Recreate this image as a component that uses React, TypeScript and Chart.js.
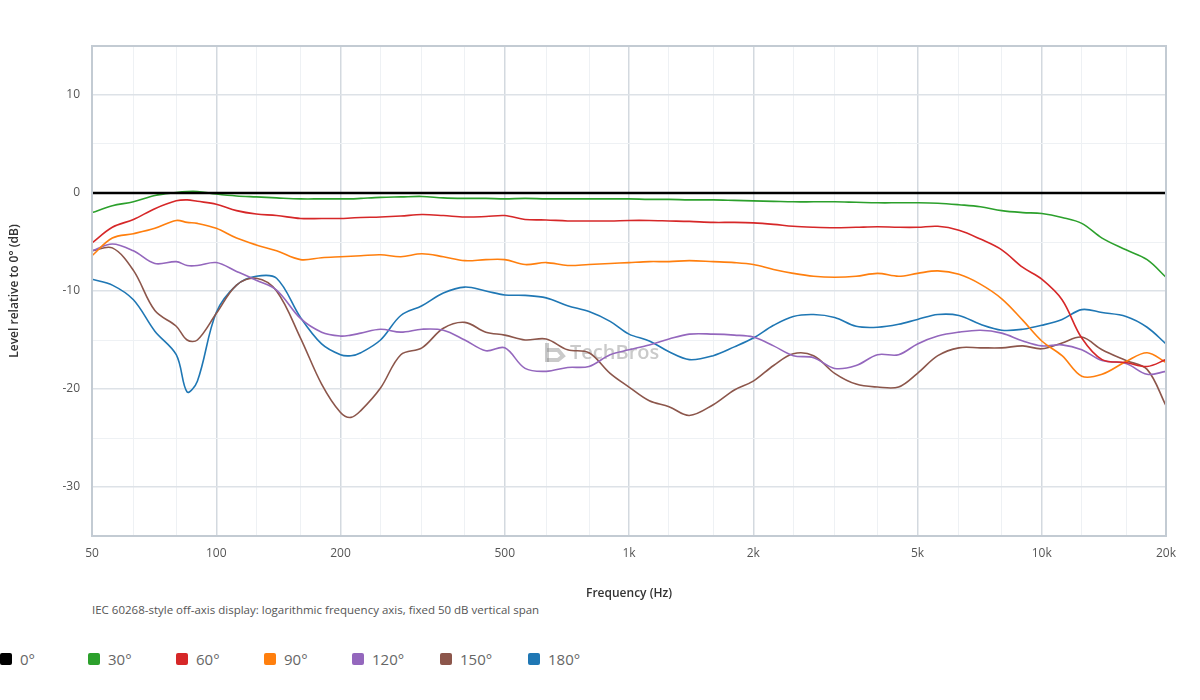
import { useEffect, useRef } from "react";
import Chart from "chart.js/auto";

// measurement frequencies (Hz), shared by every off-axis curve
const FREQS = [
  50, 56, 63, 71, 80, 85, 90, 100, 112, 125, 140, 160, 180, 200, 212, 224, 250,
  280, 315, 355, 400, 450, 500, 560, 630, 710, 800, 900, 1000, 1120, 1250, 1400,
  1600, 1800, 2000, 2240, 2500, 2800, 3150, 3550, 4000, 4500, 5000, 5600, 6300,
  7100, 8000, 9000, 10000, 11200, 12500, 14000, 16000, 18000, 20000,
];

// 0° is the reference itself
const DEG0_FREQS = [50, 20000];
const DEG0 = [0, 0];

const DEG30 = [
  -2.0, -1.3, -0.9, -0.25, 0.05, 0.15, 0.15,
  -0.1, -0.3, -0.4, -0.5, -0.6, -0.6,
  -0.6, -0.6, -0.55, -0.45, -0.4,
  -0.35, -0.5, -0.55, -0.55,
  -0.6, -0.55, -0.6, -0.6, -0.6, -0.6,
  -0.6, -0.65, -0.65, -0.7, -0.7, -0.75,
  -0.8, -0.85, -0.9, -0.9,
  -0.9, -0.95, -1.0, -1.0,
  -1.0, -1.05, -1.2, -1.4, -1.8, -2.0,
  -2.1, -2.5, -3.1, -4.6, -5.8, -6.8, -8.6,
];

const DEG60 = [
  -5.1, -3.5, -2.7, -1.6, -0.8, -0.7, -0.85,
  -1.15, -1.8, -2.15, -2.3, -2.6, -2.6,
  -2.6, -2.55, -2.5, -2.45, -2.35,
  -2.2, -2.3, -2.45, -2.4,
  -2.3, -2.7, -2.75, -2.85, -2.85, -2.85,
  -2.8, -2.8, -2.85, -2.9, -3.0, -3.0,
  -3.05, -3.2, -3.4, -3.5,
  -3.55, -3.5, -3.45, -3.5,
  -3.5, -3.4, -3.8, -4.7, -5.8, -7.6,
  -8.8, -10.9, -14.8, -17.0, -17.3, -17.7, -17.0,
];

const DEG90 = [
  -6.4, -4.6, -4.15, -3.6, -2.8, -3.0, -3.1,
  -3.6, -4.6, -5.3, -5.9, -6.8, -6.6,
  -6.5, -6.45, -6.4, -6.3, -6.5,
  -6.2, -6.5, -6.9, -6.8,
  -6.8, -7.3, -7.1, -7.4, -7.3, -7.2,
  -7.1, -7.0, -7.0, -6.9, -7.0, -7.1,
  -7.3, -7.8, -8.2, -8.5,
  -8.6, -8.5, -8.2, -8.5,
  -8.2, -7.95, -8.3, -9.3, -10.8, -13.0,
  -15.1, -16.6, -18.7, -18.5, -17.2, -16.3, -17.3,
];

const DEG120 = [
  -5.9, -5.2, -5.9, -7.2, -7.0, -7.4, -7.4,
  -7.1, -8.0, -8.9, -9.9, -12.8, -14.2,
  -14.6, -14.5, -14.3, -13.9, -14.2,
  -13.9, -14.0, -15.0, -16.1,
  -15.8, -17.9, -18.2, -17.8, -17.7, -16.5,
  -16.0, -15.5, -14.9, -14.4, -14.4, -14.5,
  -14.7, -15.6, -16.6, -16.8,
  -17.9, -17.6, -16.5, -16.5,
  -15.4, -14.6, -14.2, -14.0, -14.3, -15.1,
  -15.6, -15.5, -16.0, -17.1, -17.4, -18.5, -18.2,
];

const DEG150 = [
  -5.9, -5.6, -7.9, -12.0, -13.6, -15.0, -15.0,
  -12.3, -9.4, -8.7, -10.0, -14.8, -19.5,
  -22.4, -22.9, -22.2, -19.9, -16.5,
  -15.8, -13.8, -13.2, -14.2,
  -14.5, -15.0, -14.9, -16.0, -16.3, -18.4,
  -19.8, -21.2, -21.8, -22.7, -21.6, -20.1,
  -19.2, -17.6, -16.4, -16.6,
  -18.4, -19.5, -19.8, -19.8,
  -18.4, -16.6, -15.8, -15.8, -15.8, -15.6,
  -15.9, -15.3, -14.7, -16.0, -17.1, -18.0, -21.7,
];

const DEG180 = [
  -8.8, -9.4, -10.9, -14.1, -16.5, -20.3, -19.2,
  -12.2, -9.4, -8.5, -8.7, -12.7, -15.4,
  -16.5, -16.6, -16.3, -15.0, -12.5,
  -11.5, -10.2, -9.6, -10.0,
  -10.4, -10.45, -10.7, -11.5, -12.1, -13.1,
  -14.4, -15.1, -16.2, -17.0, -16.6, -15.7,
  -14.8, -13.5, -12.6, -12.4,
  -12.7, -13.6, -13.7, -13.4,
  -12.9, -12.4, -12.5, -13.4, -14.0, -13.9,
  -13.5, -12.9, -11.9, -12.2, -12.6, -13.7, -15.4,
];

const SERIES_LABELS = ["0°", "30°", "60°", "90°", "120°", "150°", "180°"];

// third-octave grid, labelled at the decade/2-5 steps
const GRID_FREQS = [
  50, 63, 80, 100, 125, 160, 200, 250, 315, 400, 500, 630, 800, 1000, 1250,
  1600, 2000, 2500, 3150, 4000, 5000, 6300, 8000, 10000, 12500, 16000, 20000,
];
const MAJOR_FREQS = [50, 100, 200, 500, 1000, 2000, 5000, 10000, 20000];
const MAJOR_LABELS = ["50", "100", "200", "500", "1k", "2k", "5k", "10k", "20k"];
const Y_LABELS = [10, 0, -10, -20, -30];

const COLORS = ["#000000", "#2ca02c", "#d62728", "#ff7f0e", "#9467bd", "#8c564b", "#1f77b4"];
const FONT = "'Open Sans', 'Noto Sans', sans-serif";

const frame = {
  id: "frame",
  afterDatasetsDraw(chart: any) {
    const { ctx, chartArea: a } = chart;
    ctx.save();
    ctx.strokeStyle = "#c3cbd3";
    ctx.lineWidth = 2;
    ctx.strokeRect(a.left, a.top, a.right - a.left, a.bottom - a.top);
    ctx.restore();
  },
};

const watermark = {
  id: "watermark",
  beforeDatasetsDraw(chart: any) {
    const { ctx, chartArea: a } = chart;
    const x = a.left + 453;
    const y = a.top + 307;
    ctx.save();
    ctx.globalAlpha = 0.45;
    ctx.fillStyle = "#8a8a8a";
    ctx.strokeStyle = "#8a8a8a";
    ctx.fillRect(x, y - 10, 4, 19);
    ctx.lineWidth = 4;
    ctx.lineJoin = "miter";
    ctx.beginPath();
    ctx.moveTo(x + 2, y - 3);
    ctx.lineTo(x + 13, y - 3);
    ctx.lineTo(x + 18, y + 3);
    ctx.lineTo(x + 13, y + 7);
    ctx.lineTo(x + 2, y + 7);
    ctx.stroke();
    ctx.font = `600 20px ${FONT}`;
    ctx.textBaseline = "middle";
    ctx.fillText("TechBros", x + 25, y);
    ctx.restore();
  },
};

export default function App() {
  const canvasRef = useRef<HTMLCanvasElement | null>(null);

  useEffect(() => {
    document.body.style.margin = "0";
    const ctx = canvasRef.current!.getContext("2d")!;
    const curves = [DEG30, DEG60, DEG90, DEG120, DEG150, DEG180];

    const datasets = [
      {
        label: SERIES_LABELS[0],
        data: DEG0_FREQS.map((f, i) => ({ x: f, y: DEG0[i] })),
        borderColor: COLORS[0],
        borderWidth: 2.5,
      },
      ...curves.map((vals, k) => ({
        label: SERIES_LABELS[k + 1],
        data: FREQS.map((f, i) => ({ x: f, y: vals[i] })),
        borderColor: COLORS[k + 1],
        borderWidth: 1.6,
      })),
    ];

    const chart = new Chart(ctx, {
      type: "line",
      data: { datasets },
      options: {
        animation: false,
        responsive: true,
        maintainAspectRatio: false,
        layout: { padding: { left: 0, top: 46, right: 34, bottom: 2 } },
        elements: {
          point: { radius: 0 },
          line: { tension: 0.35, fill: false },
        },
        plugins: {
          legend: { display: false },
          tooltip: { enabled: false },
        },
        scales: {
          x: {
            type: "logarithmic",
            min: 50,
            max: 20000,
            afterBuildTicks: (s: any) => {
              s.ticks = GRID_FREQS.map((v) => ({ value: v }));
            },
            afterFit: (s: any) => {
              s.height = 65;
            },
            ticks: {
              autoSkip: false,
              maxRotation: 0,
              padding: 10,
              color: "#555",
              font: { family: FONT, size: 12 },
              callback: (v: any) => {
                const i = MAJOR_FREQS.indexOf(Number(v));
                return i >= 0 ? MAJOR_LABELS[i] : "";
              },
            },
            grid: {
              drawTicks: false,
              color: (c: any) => (MAJOR_FREQS.includes(c.tick?.value) ? "#d3d9df" : "#eef1f4"),
              lineWidth: (c: any) => (MAJOR_FREQS.includes(c.tick?.value) ? 1.5 : 1),
            },
            border: { display: false },
            title: {
              display: true,
              text: "Frequency (Hz)",
              color: "#333",
              font: { family: FONT, size: 12, weight: "600" },
              padding: { top: 0, bottom: 0 },
            },
          },
          y: {
            min: -35,
            max: 15,
            afterFit: (s: any) => {
              s.width = 92;
            },
            ticks: {
              stepSize: 5,
              padding: 12,
              color: "#555",
              font: { family: FONT, size: 12 },
              callback: (v: any) => (Y_LABELS.includes(Number(v)) ? String(v) : ""),
            },
            grid: {
              drawTicks: false,
              color: (c: any) => (c.tick?.value % 10 === 0 ? "#dde2e7" : "#eef1f4"),
              lineWidth: (c: any) => (c.tick?.value % 10 === 0 ? 1.5 : 1),
            },
            border: { display: false },
            title: {
              display: true,
              text: "Level relative to 0° (dB)",
              color: "#333",
              font: { family: FONT, size: 12, weight: "600" },
              padding: { top: 7, bottom: 0 },
            },
          },
        },
      },
      plugins: [watermark, frame],
    });

    return () => chart.destroy();
  }, []);

  return (
    <div style={{ width: 1200, fontFamily: FONT }}>
      <div style={{ position: "relative", width: 1200, height: 603 }}>
        <canvas ref={canvasRef}></canvas>
      </div>
      <div style={{ paddingLeft: 92, fontSize: 11.5, lineHeight: "14px", color: "#555", height: 14 }}>
        IEC 60268-style off-axis display: logarithmic frequency axis, fixed 50 dB vertical span
      </div>
      <div style={{ display: "flex", marginTop: 32 }}>
        {SERIES_LABELS.map((lab, i) => (
          <div key={lab} style={{ width: 88, display: "flex", alignItems: "center", height: 20 }}>
            <span
              style={{
                width: 12,
                height: 12,
                borderRadius: 2,
                background: COLORS[i],
                marginRight: 8,
                display: "inline-block",
              }}
            />
            <span style={{ fontSize: 15, color: "#666" }}>{lab}</span>
          </div>
        ))}
      </div>
    </div>
  );
}
